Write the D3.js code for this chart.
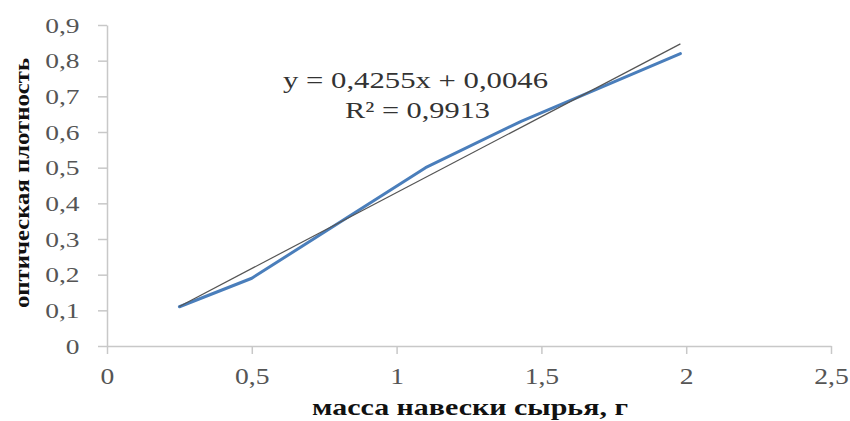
<!DOCTYPE html>
<html>
<head>
<meta charset="utf-8">
<script src="https://cdn.jsdelivr.net/npm/d3@7"></script>
<style>
  html, body { margin: 0; padding: 0; background: #fff; }
  svg { display: block; }
</style>
</head>
<body>
<svg id="chart" width="850" height="421"></svg>
<script>
// Calibration data: sample mass (g) vs optical density
const massValues = [0.25, 0.5, 1.1, 1.43, 1.98];
const densityValues = [0.11, 0.19, 0.5, 0.63, 0.82];
const xTicks = [0, 0.5, 1, 1.5, 2, 2.5];
const yTicks = [0, 0.1, 0.2, 0.3, 0.4, 0.5, 0.6, 0.7, 0.8, 0.9];
const trendSlope = 0.4255;
const trendIntercept = 0.0046;
const equationText = "y = 0,4255x + 0,0046";
const r2Text = "R² = 0,9913";
const xTitle = "масса навески сырья, г";
const yTitle = "оптическая плотность";

const svg = d3.select("#chart");
const x = d3.scaleLinear().domain([0, 2.5]).range([107, 831]);
const y = d3.scaleLinear().domain([0, 0.9]).range([346, 25]);
const fmt = v => String(v).replace(".", ",");
const serif = "'Liberation Serif', 'Times New Roman', serif";
const axisColor = "#c8c8c8";
const labelColor = "#555";

// Y axis
const gy = svg.append("g").attr("transform", `translate(${x(0)},0)`)
  .call(d3.axisLeft(y).tickValues(yTicks).tickSize(9).tickPadding(13).tickFormat(fmt).tickSizeOuter(0));
gy.select(".domain").attr("stroke", axisColor).attr("stroke-width", 1.5);
gy.selectAll(".tick line").attr("stroke", axisColor).attr("stroke-width", 1.5);
gy.selectAll(".tick text")
  .attr("font-family", serif).attr("font-size", 22).attr("fill", labelColor)
  .attr("transform", "scale(1.25,1)");

// X axis
const gx = svg.append("g").attr("transform", `translate(0,${y(0)})`)
  .call(d3.axisBottom(x).tickValues(xTicks).tickSize(8).tickPadding(14).tickFormat(fmt).tickSizeOuter(0));
gx.select(".domain").attr("stroke", axisColor).attr("stroke-width", 1.5);
gx.selectAll(".tick line").attr("stroke", axisColor).attr("stroke-width", 1.5);
gx.selectAll(".tick text")
  .attr("font-family", serif).attr("font-size", 23).attr("fill", labelColor)
  .attr("transform", "scale(1.2,1)");

// Data line
const line = d3.line().x((d, i) => x(massValues[i])).y(d => y(d));
svg.append("path")
  .datum(densityValues)
  .attr("d", line)
  .attr("fill", "none")
  .attr("stroke", "#4a7ebb")
  .attr("stroke-width", 3)
  .attr("stroke-linejoin", "round")
  .attr("stroke-linecap", "round");

// Linear trendline across the measured range
const xMin = d3.min(massValues), xMax = d3.max(massValues);
svg.append("line")
  .attr("x1", x(xMin)).attr("y1", y(trendSlope * xMin + trendIntercept))
  .attr("x2", x(xMax)).attr("y2", y(trendSlope * xMax + trendIntercept))
  .attr("stroke", "#555")
  .attr("stroke-width", 1.2);

// Regression equation
svg.append("text")
  .attr("x", 283).attr("y", 88)
  .attr("font-family", serif).attr("font-size", 23).attr("fill", "#333")
  .attr("textLength", 265).attr("lengthAdjust", "spacingAndGlyphs")
  .text(equationText);
svg.append("text")
  .attr("x", 345).attr("y", 118)
  .attr("font-family", serif).attr("font-size", 23).attr("fill", "#333")
  .attr("textLength", 145).attr("lengthAdjust", "spacingAndGlyphs")
  .text(r2Text);

// Axis titles
svg.append("text")
  .attr("x", 312).attr("y", 415)
  .attr("font-family", serif).attr("font-size", 23).attr("font-weight", "bold").attr("fill", "#111")
  .attr("textLength", 316).attr("lengthAdjust", "spacingAndGlyphs")
  .text(xTitle);
svg.append("text")
  .attr("transform", "translate(29,308) rotate(-90)")
  .attr("font-family", serif).attr("font-size", 21).attr("font-weight", "bold").attr("fill", "#111")
  .attr("textLength", 250).attr("lengthAdjust", "spacingAndGlyphs")
  .text(yTitle);
</script>
</body>
</html>
